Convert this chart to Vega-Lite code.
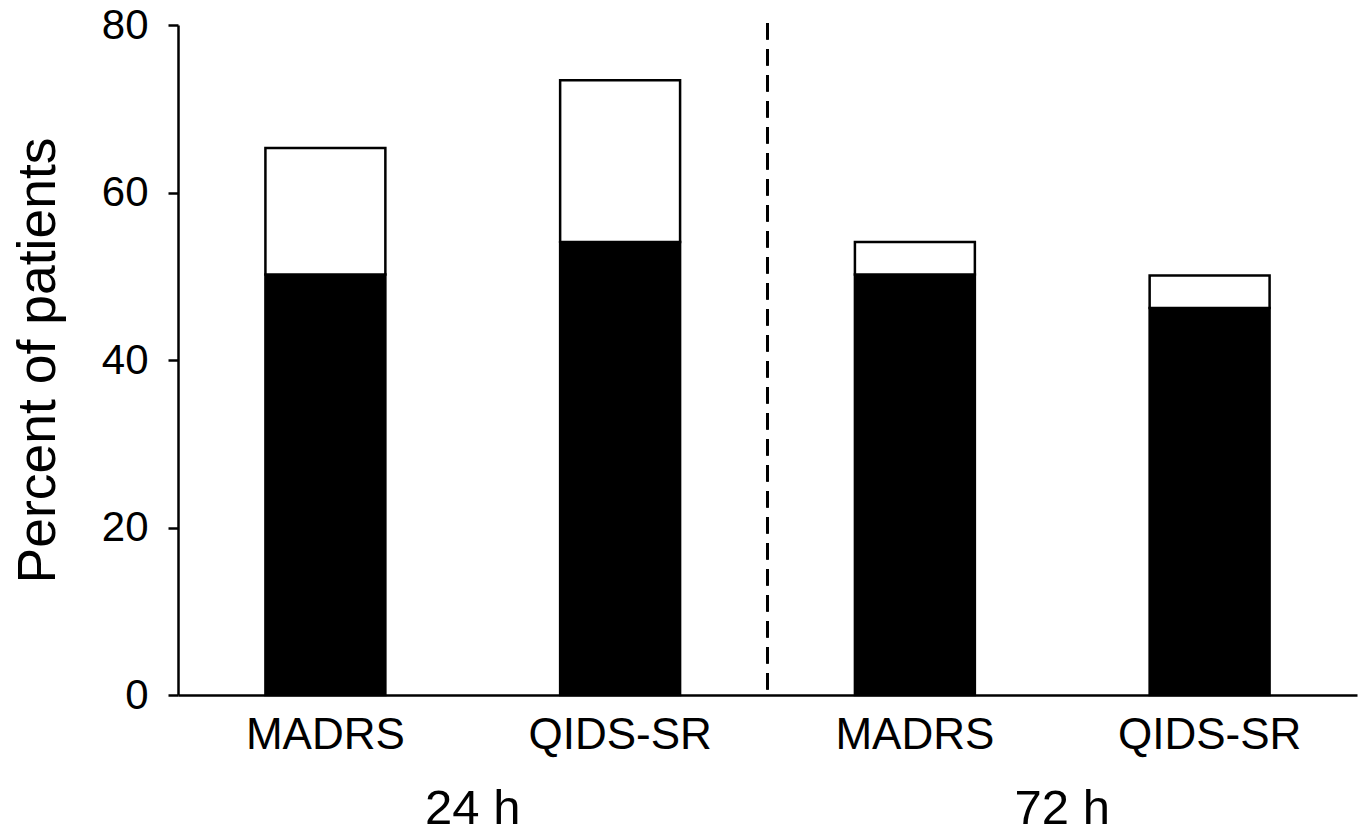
{
  "$schema": "https://vega.github.io/schema/vega-lite/v6.json",
  "autosize": "none",
  "width": 1179,
  "height": 670,
  "padding": {"left": 178, "top": 25, "right": 6, "bottom": 138},
  "background": "white",
  "config": {
    "view": {"stroke": null},
    "font": "Liberation Sans",
    "axis": {"grid": false, "domainColor": "black", "tickColor": "black", "labelColor": "black", "titleColor": "black", "domainWidth": 2.5, "tickWidth": 2.5, "labelFont": "Liberation Sans", "titleFont": "Liberation Sans"}
  },
  "data": {
    "values": [
      {"time": "24 h", "measure": "MADRS", "segment": "Response", "percent": 50.2},
      {"time": "24 h", "measure": "MADRS", "segment": "Partial response", "percent": 15.1},
      {"time": "24 h", "measure": "QIDS-SR", "segment": "Response", "percent": 54.1},
      {"time": "24 h", "measure": "QIDS-SR", "segment": "Partial response", "percent": 19.3},
      {"time": "72 h", "measure": "MADRS", "segment": "Response", "percent": 50.2},
      {"time": "72 h", "measure": "MADRS", "segment": "Partial response", "percent": 3.9},
      {"time": "72 h", "measure": "QIDS-SR", "segment": "Response", "percent": 46.2},
      {"time": "72 h", "measure": "QIDS-SR", "segment": "Partial response", "percent": 3.9}
    ]
  },
  "layer": [
    {
      "mark": {"type": "bar", "stroke": "black", "strokeWidth": 2.5},
      "encoding": {
        "x": {
          "field": "time", "type": "nominal",
          "scale": {"paddingInner": 0, "paddingOuter": 0},
          "axis": {"title": null, "labelAngle": 0, "ticks": false, "tickSize": 0, "labelPadding": 128, "labelBaseline": "alphabetic", "labelFontSize": 49, "domainWidth": 2.5}
        },
        "xOffset": {
          "field": "measure", "type": "nominal",
          "scale": {"paddingInner": 0.593, "paddingOuter": 0.2966}
        },
        "y": {
          "field": "percent", "type": "quantitative", "stack": "zero",
          "scale": {"domain": [0, 80], "nice": false},
          "axis": {"title": "Percent of patients", "values": [0, 20, 40, 60, 80], "tickSize": 10, "labelPadding": 20, "labelFontSize": 42, "titleFontSize": 53.5, "titleFontWeight": "normal", "titlePadding": 36, "labelBaseline": "middle"}
        },
        "color": {
          "field": "segment", "type": "nominal",
          "scale": {"domain": ["Response", "Partial response"], "range": ["black", "white"]},
          "legend": null
        },
        "order": {"field": "segment", "sort": "descending"}
      }
    },
    {
      "transform": [{"filter": "datum.segment === 'Response'"}],
      "mark": {"type": "text", "fontSize": 44, "baseline": "alphabetic", "align": "center", "dy": 54, "color": "black", "font": "Liberation Sans"},
      "encoding": {
        "x": {"field": "time", "type": "nominal"},
        "xOffset": {"field": "measure", "type": "nominal"},
        "y": {"datum": 0, "type": "quantitative"},
        "text": {"field": "measure"}
      }
    },
    {
      "mark": {"type": "rule", "color": "black", "strokeWidth": 2.5, "strokeDash": [16, 10]},
      "encoding": {
        "x": {"datum": "72 h", "type": "nominal", "bandPosition": 0},
        "y": {"datum": 80.2, "type": "quantitative"},
        "y2": {"datum": 0}
      }
    }
  ]
}
